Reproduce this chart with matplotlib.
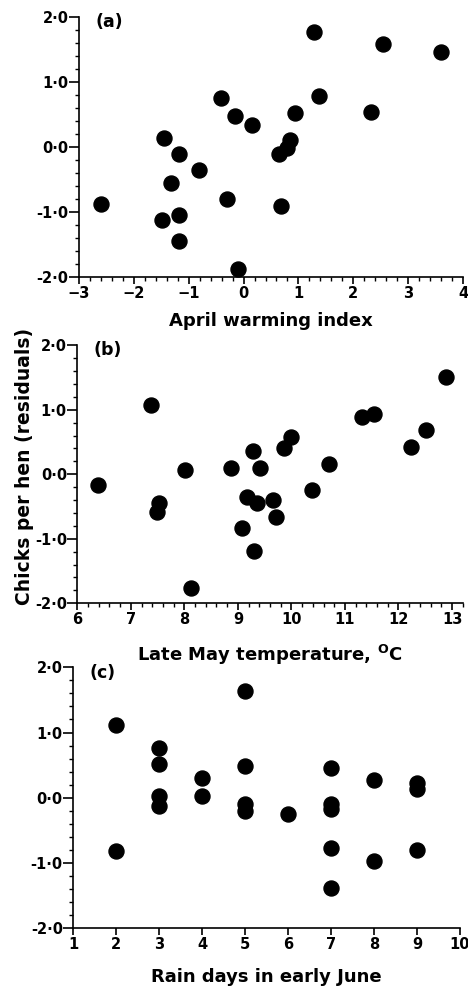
import matplotlib
matplotlib.use("Agg")
import matplotlib.pyplot as plt
from matplotlib.ticker import MultipleLocator, FuncFormatter

plt.rcParams['font.family'] = ['DejaVu Sans']
plt.rcParams['font.weight'] = 'bold'
plt.rcParams['mathtext.fontset'] = 'custom'
plt.rcParams['mathtext.rm'] = 'DejaVu Sans:bold'
plt.rcParams['mathtext.bf'] = 'DejaVu Sans:bold'

# (a) April warming index vs residual chicks per hen
april_x = [-2.59, -1.45, -1.17, -0.82, -1.32, -1.49, -1.17, -1.18, -0.41, -0.16,
           0.15, -0.31, -0.10, 0.65, 0.79, 0.85, 0.94, 0.68, 1.28, 1.37,
           2.33, 2.55, 3.60]
april_y = [-0.87, 0.14, -0.11, -0.35, -0.55, -1.12, -1.04, -1.44, 0.76, 0.48,
           0.34, -0.80, -1.87, -0.10, -0.02, 0.11, 0.53, -0.91, 1.77, 0.78,
           0.54, 1.58, 1.46]

# (b) late May temperature
may_x = [6.39, 7.37, 7.52, 7.49, 8.02, 8.13, 8.88, 9.28, 9.41, 9.17,
         9.36, 9.08, 9.30, 9.66, 9.71, 9.86, 10.00, 10.38, 10.71, 11.32,
         11.54, 12.23, 12.52, 12.89]
may_y = [-0.17, 1.07, -0.44, -0.58, 0.06, -1.77, 0.09, 0.36, 0.10, -0.35,
         -0.44, -0.84, -1.19, -0.40, -0.66, 0.41, 0.58, -0.24, 0.16, 0.89,
         0.93, 0.43, 0.68, 1.51]

# (c) rain days in early June
rain_x = [2, 2, 3, 3, 3, 3, 4, 4, 5, 5, 5, 5, 6, 7, 7, 7, 7, 7, 8, 8, 9, 9, 9]
rain_y = [1.11, -0.82, 0.76, 0.51, 0.03, -0.13, 0.31, 0.02, 1.64, 0.49,
          -0.10, -0.20, -0.25, 0.46, -0.09, -0.17, -0.77, -1.38, 0.27, -0.97,
          0.23, 0.14, -0.80]


def dot_fmt(v, pos):
    return "{:.1f}".format(v).replace(".", "\u00b7")


fig = plt.figure(figsize=(4.68, 9.88), dpi=100)
ax1 = fig.add_axes([0.1688, 0.7196, 0.8205, 0.2632])
ax2 = fig.add_axes([0.1652, 0.3894, 0.8235, 0.2611])
ax3 = fig.add_axes([0.1566, 0.0605, 0.8263, 0.2641])

panels = [
    (ax1, april_x, april_y, (-3, 4), True, "(a)", "April warming index", 8),
    (ax2, may_x, may_y, (6, 13.2), True, "(b)", r"Late May temperature, $^{\mathrm{O}}$C", 11),
    (ax3, rain_x, rain_y, (1, 10), False, "(c)", "Rain days in early June", 11),
]

for ax, xs, ys, xlim, xminor, tag, xlabel, pad in panels:
    ax.plot(xs, ys, 'o', color='black', markersize=10.8, clip_on=False)
    ax.set_xlim(*xlim)
    ax.set_ylim(-2, 2)
    ax.spines['top'].set_visible(False)
    ax.spines['right'].set_visible(False)
    ax.spines['left'].set_linewidth(1.2)
    ax.spines['bottom'].set_linewidth(1.2)
    ax.xaxis.set_major_locator(MultipleLocator(1))
    if xminor:
        ax.xaxis.set_minor_locator(MultipleLocator(0.2))
    ax.yaxis.set_major_locator(MultipleLocator(1))
    ax.yaxis.set_minor_locator(MultipleLocator(0.2))
    ax.yaxis.set_major_formatter(FuncFormatter(dot_fmt))
    ax.tick_params(which='both', direction='out', labelsize=10.5)
    ax.tick_params(axis='x', which='major', length=5, width=1.2, pad=1.5)
    ax.tick_params(axis='y', which='major', length=7, width=1.2, pad=0.5)
    ax.tick_params(which='minor', length=3, width=1.0)
    for lab in ax.get_xticklabels() + ax.get_yticklabels():
        lab.set_fontweight('bold')
    ax.text(0.042, 0.98, tag, transform=ax.transAxes, fontsize=12.5,
            fontweight='bold', va='center', ha='left')
    ax.set_xlabel(xlabel, fontsize=13, fontweight='bold', labelpad=pad)

ax2.set_ylabel("Chicks per hen (residuals)", fontsize=13.5, fontweight='bold')
ax2.yaxis.set_label_coords(-0.112, 0.53)

fig.savefig("out.png", dpi=100)
